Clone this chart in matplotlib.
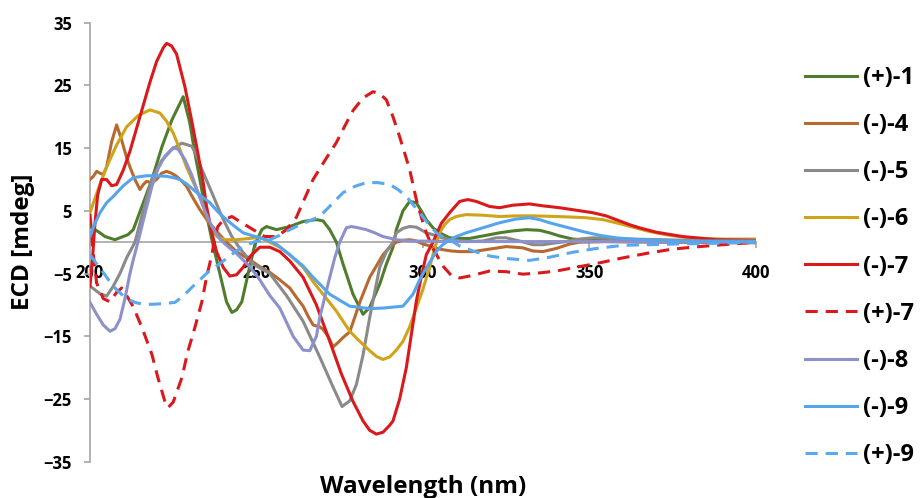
import matplotlib
matplotlib.use("Agg")
import matplotlib.pyplot as plt

plt.rcParams['font.family'] = ['Open Sans', 'DejaVu Sans']
plt.rcParams['font.weight'] = 'bold'

# ---- data (wavelength nm, ECD mdeg) ----
wl_p1 = [200, 203, 204.5, 207.5, 211.4, 213, 215.6, 218.6, 221.6, 224.6, 228, 230, 231.5, 233, 234.5, 236.6, 239, 241, 242.6, 244, 245.6, 247.5, 249.5, 251.6, 253, 256, 260, 264, 268, 270, 272, 274, 276, 279, 282, 284, 287, 289, 291, 292, 294, 296, 298, 299.5, 301, 303, 305, 308, 311, 314, 318, 323, 327, 331, 335, 338, 341, 345, 350, 360, 380, 400]
ecd_p1 = [2.5, 1.5, 0.9, 0.4, 1.2, 2.0, 5.7, 10.0, 15.2, 19.5, 23.2, 19.0, 14.2, 10.0, 5.7, 0.4, -5.0, -9.5, -11.2, -10.8, -9.5, -5.0, -0.4, 2.0, 2.5, 2.0, 2.5, 3.3, 3.6, 3.4, 2.0, 0.0, -3.5, -8.3, -11.5, -10.4, -6.7, -3.5, -0.8, 2.0, 5.0, 6.5, 6.3, 5.0, 3.6, 2.3, 1.5, 0.7, 0.6, 0.6, 1.0, 1.5, 1.8, 2.0, 1.9, 1.5, 1.0, 0.5, 0.3, 0.2, 0.2, 0.2]

wl_m4 = [200, 201, 202, 203, 204, 205, 206.5, 208, 209.5, 211, 212, 213.5, 215, 216, 217, 218.5, 220, 221.5, 223, 224.5, 226, 227.5, 229, 231, 233, 235.5, 238.4, 241, 244, 248, 251, 254, 257, 260, 262, 264, 265.5, 267, 269, 270, 271.5, 273, 274.5, 276, 278, 279.5, 281, 284, 286, 288, 290, 292, 294, 296, 298, 300, 301.5, 303.5, 306, 308.5, 311, 315, 320, 325, 330, 333, 336, 340, 344, 347, 355, 370, 400]
ecd_m4 = [10.0, 10.5, 11.3, 11.0, 10.8, 12.0, 16.0, 18.7, 16.3, 13.5, 12.0, 10.0, 8.4, 9.2, 9.7, 9.5, 10.0, 11.0, 11.3, 11.0, 10.5, 9.8, 8.9, 7.0, 5.2, 3.3, 1.5, 0.0, -1.5, -2.8, -3.9, -4.8, -6.0, -7.3, -8.8, -10.2, -11.8, -13.2, -13.5, -13.9, -15.0, -16.7, -16.0, -15.2, -14.3, -12.0, -9.6, -5.6, -3.8, -2.0, -0.8, 0.0, 0.3, 0.4, 0.2, -0.3, -0.5, -0.9, -1.2, -1.4, -1.5, -1.5, -1.1, -0.7, -0.9, -1.4, -1.5, -1.0, -0.3, 0.0, 0.1, 0.0, -0.1]

wl_m5 = [200, 203, 205, 207, 209, 211, 213.5, 216, 218.6, 221.5, 224.6, 227.6, 230.6, 232, 233.6, 236.6, 239.6, 242.6, 245, 249, 254, 259, 264, 269, 273, 275.7, 278, 280, 282, 284, 285.5, 287, 289, 291, 292, 294, 296, 298, 301, 303, 305, 308, 313, 318, 322, 325, 329, 333, 336, 340, 343, 347, 351, 357, 363, 380, 400]
ecd_m5 = [-7.0, -8.2, -8.6, -7.0, -5.0, -2.5, 0.0, 5.0, 10.0, 13.0, 14.8, 15.8, 15.3, 13.8, 11.6, 7.9, 4.1, 0.9, -1.0, -3.5, -5.0, -8.5, -12.6, -18.3, -23.1, -26.2, -25.3, -22.7, -18.0, -12.0, -8.0, -4.0, -1.5, 0.0, 1.5, 2.2, 2.5, 2.4, 1.5, 1.2, 0.8, 0.4, 0.1, 0.2, 0.7, 0.7, 0.2, -0.4, -0.4, -0.1, 0.1, 0.5, 0.7, 0.6, 0.5, 0.3, 0.2]

wl_m6 = [200, 202.5, 205, 208, 211, 214.5, 218, 221, 223, 225, 227, 229, 231, 233, 235, 237, 238.5, 240.5, 244, 248, 251, 254, 257, 260, 264, 267, 270, 274, 278, 281, 284, 286, 288, 290, 292, 294, 296, 298, 300, 302, 303.5, 305, 306.5, 308, 310, 313, 318, 323, 328, 333, 340, 345, 349, 354, 358, 363, 368, 374, 380, 390, 400]
ecd_m6 = [4.7, 8.5, 12.0, 15.5, 18.4, 20.2, 21.1, 20.6, 19.3, 17.4, 14.8, 12.0, 9.6, 7.3, 4.3, 1.5, 0.8, 0.4, 0.4, 0.6, 0.8, 0.0, -0.8, -2.0, -4.0, -6.3, -8.3, -11.0, -14.2, -15.8, -17.3, -18.2, -18.7, -18.3, -17.2, -15.8, -13.5, -10.5, -7.5, -4.0, -1.0, 1.5, 2.8, 3.6, 4.1, 4.4, 4.3, 4.1, 4.2, 4.2, 4.1, 4.0, 3.9, 3.6, 3.1, 2.4, 1.7, 1.1, 0.7, 0.5, 0.5]

wl_m7 = [200, 200.7, 201.5, 202.3, 203.5, 205, 206.5, 208, 210, 212, 215, 218, 220, 222, 223, 224.5, 226, 228.5, 230.5, 232.4, 234, 235, 236.6, 238, 240, 242, 244, 246, 248, 251, 254, 257, 260, 264, 268, 272, 275.5, 279, 282, 284, 286, 288, 290, 291, 293, 295, 297, 298, 299.5, 301, 303, 305.5, 308, 311, 313.5, 316, 320, 323, 327, 332, 336, 341, 346, 351, 355, 358, 362, 365, 370, 378, 388, 400]
ecd_m7 = [-7.0, -3.0, 3.0, 7.5, 10.0, 10.0, 9.0, 9.2, 11.5, 14.5, 20.0, 25.5, 28.8, 31.0, 31.7, 31.3, 30.0, 24.8, 19.5, 14.2, 9.5, 5.7, 1.5, -1.5, -4.0, -5.4, -5.2, -4.0, -2.3, -0.8, -0.8, -1.5, -3.0, -5.6, -10.0, -15.8, -21.0, -25.4, -28.5, -30.0, -30.6, -30.3, -29.2, -28.5, -25.0, -20.0, -13.0, -9.4, -5.5, -2.0, 0.0, 3.0, 4.7, 6.5, 6.8, 6.5, 5.7, 5.5, 5.9, 6.1, 5.8, 5.5, 5.1, 4.7, 4.2, 3.6, 2.8, 2.3, 1.6, 0.9, 0.4, 0.3]

wl_p7 = [200, 201, 202, 204, 206, 208, 209.5, 211, 213, 215.6, 218.6, 220.4, 222.5, 223.4, 225, 227.6, 229.4, 231.5, 233.6, 235, 236.6, 237.5, 238.4, 240, 242.6, 245.6, 249, 252.5, 256, 259, 262, 264.5, 267, 270.5, 274, 276.5, 279, 282, 285, 287, 289, 291, 293, 294.5, 296, 298, 299.5, 301, 303, 306, 308.5, 311, 314, 320, 325, 330, 335, 340, 346, 353, 360, 368, 375, 383, 390, 400]
ecd_p7 = [4.5, -2.0, -6.5, -9.0, -9.5, -8.0, -7.3, -8.5, -10.3, -13.6, -17.9, -21.6, -25.4, -26.4, -25.5, -21.6, -17.4, -13.6, -9.5, -5.6, -2.0, 0.7, 2.5, 3.5, 4.1, 3.1, 2.0, 0.9, 0.9, 2.0, 4.0, 7.0, 10.0, 13.0, 15.9, 18.5, 21.0, 23.0, 24.0, 23.7, 22.7, 20.0, 16.8, 14.2, 11.6, 6.8, 4.0, 1.5, -1.0, -3.8, -5.3, -5.7, -5.4, -4.6, -4.7, -5.1, -4.9, -4.6, -4.0, -3.3, -2.5, -1.7, -1.1, -0.7, -0.4, 0.0]

wl_m8 = [200, 202, 204, 206, 207.5, 209, 210.5, 212, 213, 214.4, 216.5, 218.6, 220.5, 222.5, 225, 226.5, 228.5, 230.5, 232.4, 234.5, 236.6, 239, 241, 244, 248, 251, 254, 257, 261, 264, 266, 268, 269, 270.5, 272, 273.5, 275, 277, 278.5, 280.5, 283, 285.5, 288, 292, 296, 310, 350, 400]
ecd_m8 = [-9.6, -11.5, -13.2, -14.2, -13.8, -12.3, -9.0, -5.0, -2.8, 0.0, 4.5, 8.9, 11.8, 13.7, 15.1, 14.8, 13.2, 10.8, 7.9, 5.0, 2.5, 0.5, -0.5, -1.8, -3.9, -6.0, -8.5, -10.5, -15.0, -17.2, -17.3, -15.0, -12.0, -8.8, -5.6, -2.5, 0.0, 2.3, 2.5, 2.3, 2.0, 1.5, 0.9, 0.4, 0.2, 0.1, 0.1, 0.0]

wl_m9 = [200, 201.5, 203, 205, 207, 210, 213, 217, 220, 223, 225, 227, 229, 231, 233.5, 236, 238.5, 241, 243.5, 246, 249, 253, 256, 260, 264, 267, 272, 278, 281, 284, 288, 294, 297, 299, 301, 302.5, 304, 305.5, 307, 310, 313, 318, 323, 328, 332, 335, 338, 343, 348, 353, 358, 365, 380, 400]
ecd_m9 = [0.9, 3.0, 4.7, 6.3, 7.3, 9.0, 10.3, 10.6, 10.6, 10.5, 10.3, 10.0, 9.3, 8.4, 7.3, 6.3, 4.8, 3.6, 2.5, 1.5, 1.0, 0.4, -0.3, -2.0, -3.8, -5.6, -8.3, -10.2, -10.4, -10.6, -10.5, -10.2, -8.3, -6.0, -4.1, -2.8, -1.5, -0.6, 0.0, 0.9, 1.5, 2.3, 3.1, 3.7, 3.9, 3.6, 3.1, 2.4, 1.7, 1.1, 0.7, 0.4, 0.2, 0.2]

wl_p9 = [200, 202.5, 204.5, 206.5, 208.4, 211, 213.5, 216, 218.6, 222, 225.5, 228, 230.6, 233, 235.4, 238, 240.5, 243, 245.6, 249.5, 254, 257, 260, 264.5, 269, 272.5, 276, 279.5, 283, 286.5, 290, 292.5, 295, 297, 299, 301.5, 304, 306, 308, 311, 315, 320, 325, 332, 338, 345, 352, 360, 368, 375, 385, 400]
ecd_p9 = [-2.0, -3.8, -5.2, -6.7, -7.8, -9.0, -9.6, -9.9, -9.9, -9.8, -9.6, -8.6, -7.2, -6.0, -4.8, -3.8, -2.8, -1.8, -0.8, 0.1, 0.4, 1.1, 2.0, 3.1, 4.1, 6.0, 7.9, 8.9, 9.5, 9.5, 9.2, 8.4, 7.3, 6.0, 4.7, 3.0, 1.5, 0.8, 0.4, -0.6, -1.4, -2.2, -2.6, -2.9, -2.4, -1.6, -1.0, -0.5, -0.4, -0.3, -0.2, 0.0]

labels = ['(+)-1', '(-)-4', '(-)-5', '(-)-6', '(-)-7', '(+)-7', '(-)-8', '(-)-9', '(+)-9']
series = [(wl_p1, ecd_p1), (wl_m4, ecd_m4), (wl_m5, ecd_m5), (wl_m6, ecd_m6),
          (wl_m7, ecd_m7), (wl_p7, ecd_p7), (wl_m8, ecd_m8), (wl_m9, ecd_m9), (wl_p9, ecd_p9)]
colors = ['#507D2D', '#B8692E', '#8A8A8A', '#CFA31A', '#D9191C', '#D9191C', '#8C91CC', '#56A5EC', '#5AA8EE']
dashed = [False, False, False, False, False, True, False, False, True]

xticks = [200, 250, 300, 350, 400]
yticks = [-35, -25, -15, -5, 5, 15, 25, 35]

fig = plt.figure(figsize=(9.21, 4.98), dpi=100)
ax = fig.add_axes([0.0977, 0.0729, 0.8208 - 0.0977, 0.9544 - 0.0729])

handles = []
for (x, y), c, d, lab in zip(series, colors, dashed, labels):
    if d:
        h, = ax.plot(x, y, color=c, lw=2.2, dashes=(4, 2.6), label=lab, zorder=3)
    else:
        h, = ax.plot(x, y, color=c, lw=2.2, label=lab, zorder=3, solid_joinstyle='round')
    handles.append(h)

ax.set_xlim(200, 400)
ax.set_ylim(-35, 35)
ax.set_xticks(xticks)
ax.set_yticks(yticks)

axis_gray = '#A6A6A6'
ax.spines['top'].set_visible(False)
ax.spines['right'].set_visible(False)
ax.spines['bottom'].set_position(('data', 0))
ax.spines['bottom'].set_color(axis_gray)
ax.spines['left'].set_color(axis_gray)
ax.spines['bottom'].set_linewidth(1.2)
ax.spines['left'].set_linewidth(1.2)
ax.spines['bottom'].set_zorder(1)
ax.tick_params(axis='both', colors=axis_gray, length=4, width=1.2, direction='out')
ax.tick_params(axis='x', labelcolor='black', labelsize=12, pad=11.5)
ax.tick_params(axis='y', labelcolor='black', labelsize=12, pad=9)
for t in ax.get_xticklabels() + ax.get_yticklabels():
    t.set_fontweight('bold')

ax.set_xlabel('Wavelength (nm)', fontsize=17.5, fontweight='bold')
ax.xaxis.set_label_coords(0.5, -0.030)
ax.set_ylabel('ECD [mdeg]', fontsize=17.5, fontweight='bold')
ax.yaxis.set_label_coords(-0.0826, 0.5)

leg = ax.legend(handles=handles, loc='upper left', bbox_to_anchor=(0.874, 0.8675),
                bbox_transform=fig.transFigure, frameon=False,
                prop={'weight': 'bold', 'size': 17}, handlelength=2.2,
                handletextpad=0.25, labelspacing=0.98, borderpad=0, borderaxespad=0)

fig.savefig('out.png', dpi=100)
